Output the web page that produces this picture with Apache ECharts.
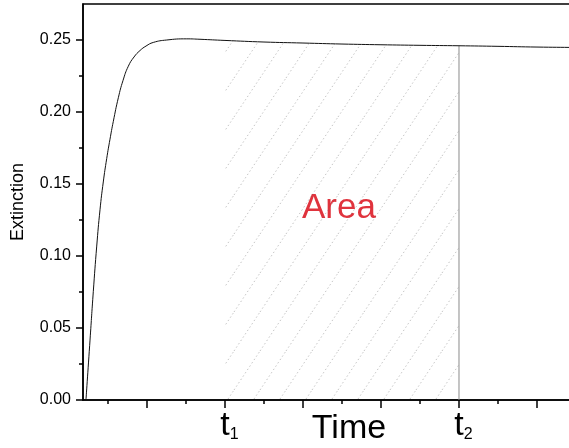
<!DOCTYPE html>
<html>
<head>
<meta charset="utf-8">
<script src="https://cdn.jsdelivr.net/npm/echarts@6/dist/echarts.min.js"></script>
<style>
  html, body { margin: 0; padding: 0; background: #fff; }
  #chart { width: 569px; height: 448px; }
</style>
</head>
<body>
<div id="chart"></div>
<script>
// Extinction kinetics: time (arbitrary units) and measured extinction
const timeValues = [
  0.218, 0.270, 0.312, 0.356, 0.398, 0.440, 0.484, 0.526, 0.568, 0.633,
  0.693, 0.761, 0.834, 0.911, 0.988, 1.081, 1.253, 1.51, 1.68, 2.00,
  2.50, 3.00, 3.50, 4.00, 4.50, 5.00, 5.50, 6.00, 6.50, 7.00
];
const extinctionValues = [
  0.000, 0.0416, 0.0752, 0.1069, 0.1321, 0.1514, 0.1677, 0.1811, 0.1933, 0.2099,
  0.2219, 0.2318, 0.2382, 0.2427, 0.2458, 0.2483, 0.2500, 0.2508, 0.2505, 0.2497,
  0.2486, 0.2479, 0.2472, 0.2467, 0.2463, 0.2460, 0.2456, 0.2451, 0.2448, 0.2444
];

// Integration limits t1 and t2
const limitTimes = [2, 5];
const limitSubscripts = ['1', '2'];

// Axis ticks
const yMajorTicks = [0, 0.05, 0.10, 0.15, 0.20, 0.25];
const yMinorTicks = [0.025, 0.075, 0.125, 0.175, 0.225];
const xMajorTicks = [1, 2, 3, 4, 5, 6];
const xMinorTicks = [0.5, 1.5, 2.5, 3.5, 4.5, 5.5, 6.5];

const xTitle = 'Time';
const yTitle = 'Extinction';
const areaLabel = 'Area';

const FONT = '"Liberation Sans", Arial, sans-serif';

// Curve points and the integrated segment between the limits
const curve = timeValues.map((t, i) => [t, extinctionValues[i]]);
const areaPoints = curve.filter(p => p[0] >= limitTimes[0] && p[0] <= limitTimes[1]);
const t2Point = curve.find(p => p[0] === limitTimes[1]);

// Dotted diagonal hatch used to fill the integrated region
function makeHatch() {
  const w = 26, h = 39;
  const c = document.createElement('canvas');
  c.width = w; c.height = h;
  const ctx = c.getContext('2d');
  ctx.strokeStyle = 'rgba(110,110,110,0.4)';
  ctx.lineWidth = 1;
  ctx.setLineDash([1.5, 2.5]);
  for (let k = -1; k <= 1; k++) {
    ctx.beginPath();
    ctx.moveTo(k * w, h);
    ctx.lineTo(k * w + w, 0);
    ctx.stroke();
  }
  return c;
}

const chart = echarts.init(document.getElementById('chart'), null, { renderer: 'canvas' });

const axisLine = { show: true, lineStyle: { color: '#000', width: 1.5 } };

chart.setOption({
  animation: false,
  backgroundColor: '#fff',
  grid: {
    left: 83, top: 4, width: 532, height: 396,
    containLabel: false, outerBoundsMode: 'none',
    show: true, borderColor: '#000', borderWidth: 1.5, backgroundColor: 'transparent'
  },
  xAxis: [
    {
      type: 'value', min: 0.18, max: 7.0, position: 'bottom',
      axisLine: axisLine,
      axisTick: { show: true, length: 8, customValues: xMajorTicks, lineStyle: { color: '#000', width: 1.5 } },
      axisLabel: {
        customValues: limitTimes,
        margin: 9,
        formatter: v => '{t|t}{s|' + limitSubscripts[limitTimes.indexOf(v)] + '}',
        rich: {
          t: { fontSize: 34, color: '#000', fontFamily: FONT, padding: [0, 0, 0, 9] },
          s: { fontSize: 16, color: '#000', fontFamily: FONT, verticalAlign: 'bottom' }
        }
      },
      splitLine: { show: false },
      name: xTitle, nameLocation: 'middle', nameGap: 12, nameMoveOverlap: false,
      nameTextStyle: { fontSize: 34, color: '#000', fontFamily: FONT, verticalAlign: 'top' }
    },
    {
      type: 'value', min: 0.18, max: 7.0, position: 'bottom',
      axisLine: { show: false },
      axisTick: { show: true, length: 4, customValues: xMinorTicks, lineStyle: { color: '#000', width: 1.5 } },
      axisLabel: { show: false },
      splitLine: { show: false }
    }
  ],
  yAxis: [
    {
      type: 'value', min: 0, max: 0.275, position: 'left',
      axisLine: axisLine,
      axisTick: { show: true, length: 7, customValues: yMajorTicks, lineStyle: { color: '#000', width: 1.5 } },
      axisLabel: {
        customValues: yMajorTicks,
        formatter: v => v.toFixed(2),
        fontSize: 16, color: '#000', fontFamily: FONT, margin: 12
      },
      splitLine: { show: false },
      name: yTitle, nameLocation: 'middle', nameGap: 56, nameMoveOverlap: false,
      nameTextStyle: { fontSize: 18, color: '#000', fontFamily: FONT }
    },
    {
      type: 'value', min: 0, max: 0.275, position: 'left',
      axisLine: { show: false },
      axisTick: { show: true, length: 4, customValues: yMinorTicks, lineStyle: { color: '#000', width: 1.5 } },
      axisLabel: { show: false },
      splitLine: { show: false }
    }
  ],
  series: [
    {
      name: 'area', type: 'line', xAxisIndex: 0, yAxisIndex: 0,
      data: areaPoints, showSymbol: false, silent: true,
      smooth: 0.5,
      lineStyle: { width: 0, opacity: 0 },
      areaStyle: { color: { image: makeHatch(), repeat: 'repeat' }, opacity: 1 },
      z: 1
    },
    {
      name: 't2', type: 'line', xAxisIndex: 0, yAxisIndex: 0,
      data: [[t2Point[0], 0], t2Point], showSymbol: false, silent: true,
      lineStyle: { color: '#8a8a8a', width: 1 },
      z: 2
    },
    {
      name: 'extinction', type: 'line', xAxisIndex: 0, yAxisIndex: 0,
      data: curve, showSymbol: false, silent: true,
      smooth: 0.5,
      lineStyle: { color: '#111', width: 1 },
      z: 3
    }
  ],
  graphic: [
    {
      type: 'text', left: 302, top: 191, silent: true,
      style: { text: areaLabel, fontSize: 35, fill: '#e0333d', fontFamily: FONT }
    }
  ]
});
</script>
</body>
</html>
